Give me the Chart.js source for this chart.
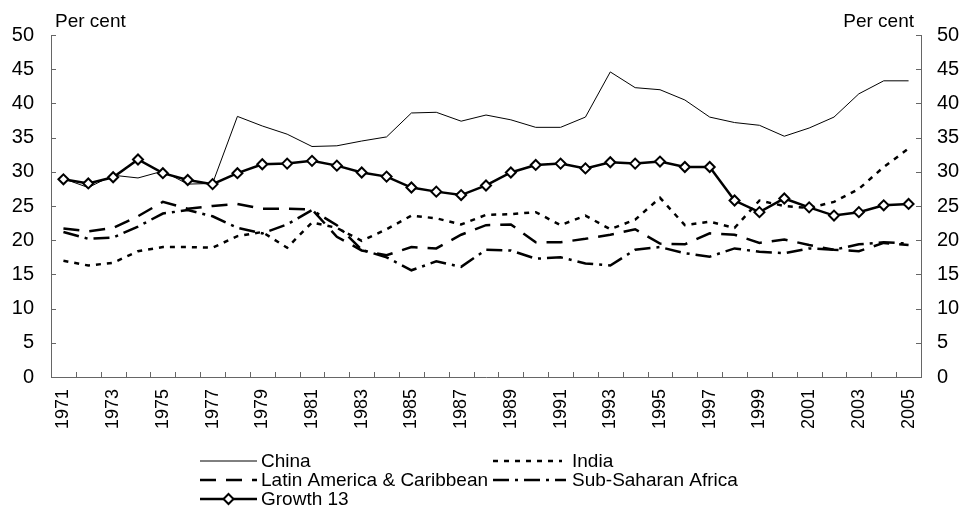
<!DOCTYPE html>
<html>
<head>
    <meta charset="UTF-8">
    <title>Per cent</title>
    <script src="https://cdn.jsdelivr.net/npm/chart.js"></script>
    <style>
        html, body { margin: 0; padding: 0; background: #fff; }
    </style>
</head>
<body>
    <canvas id="myChart" width="960" height="508"></canvas>

    <script>
        // categories and series
        const years = ['1971', '1972', '1973', '1974', '1975', '1976', '1977', '1978', '1979', '1980',
                       '1981', '1982', '1983', '1984', '1985', '1986', '1987', '1988', '1989', '1990',
                       '1991', '1992', '1993', '1994', '1995', '1996', '1997', '1998', '1999', '2000',
                       '2001', '2002', '2003', '2004', '2005'];
        const china = [29.0, 27.7, 29.5, 29.1, 30.1, 28.2, 28.3, 38.1, 36.7, 35.5,
                       33.7, 33.8, 34.5, 35.1, 38.6, 38.7, 37.4, 38.3, 37.6, 36.5,
                       36.5, 38.0, 44.6, 42.3, 42.0, 40.5, 38.0, 37.2, 36.8, 35.2,
                       36.4, 38.0, 41.4, 43.3, 43.3];
        const india = [17.0, 16.3, 16.7, 18.4, 19.0, 19.0, 18.9, 20.6, 21.2, 18.9,
                       22.6, 21.8, 19.9, 21.6, 23.6, 23.2, 22.3, 23.7, 23.8, 24.1,
                       22.2, 23.6, 21.6, 23.0, 26.2, 22.2, 22.7, 21.8, 25.8, 25.0,
                       24.7, 25.6, 27.5, 30.7, 33.4];
        const latinAmerica = [21.7, 21.3, 21.8, 23.5, 25.6, 24.6, 25.0, 25.3, 24.6, 24.6,
                              24.5, 20.5, 18.5, 17.8, 19.0, 18.8, 20.8, 22.2, 22.3, 19.7,
                              19.7, 20.2, 20.8, 21.6, 19.5, 19.4, 21.0, 20.8, 19.6, 20.1,
                              19.3, 18.6, 18.4, 19.6, 19.3];
        const subSaharan = [21.2, 20.2, 20.4, 22.0, 23.9, 24.4, 23.5, 21.8, 21.0, 22.3,
                            24.4, 22.2, 18.6, 17.5, 15.6, 16.9, 16.1, 18.6, 18.5, 17.3,
                            17.5, 16.6, 16.3, 18.6, 19.0, 18.1, 17.6, 18.8, 18.3, 18.1,
                            18.8, 18.6, 19.4, 19.7, 19.5];
        const growth13 = [28.9, 28.3, 29.2, 31.8, 29.8, 28.8, 28.2, 29.8, 31.1, 31.2,
                          31.6, 30.9, 29.9, 29.3, 27.7, 27.1, 26.6, 28.0, 29.9, 31.0,
                          31.2, 30.5, 31.4, 31.2, 31.5, 30.7, 30.7, 25.8, 24.1, 26.1,
                          24.8, 23.6, 24.1, 25.1, 25.3];
        const yTicks = [0, 5, 10, 15, 20, 25, 30, 35, 40, 45, 50];

        const FONT = 'Liberation Sans, Arial, sans-serif';
        const AXIS = '#666';

        // ticks drawn inside the plot, plus "Per cent" titles and the legend
        const decorations = {
            id: 'decorations',
            afterDraw(chart) {
                const c = chart.ctx;
                const a = chart.chartArea;
                const x = chart.scales.x, y = chart.scales.y;
                c.save();
                c.strokeStyle = AXIS;
                c.lineWidth = 1;
                c.beginPath();
                yTicks.forEach(v => {
                    const py = Math.round(y.getPixelForValue(v)) + 0.5;
                    c.moveTo(a.left, py); c.lineTo(a.left + 5, py);
                    c.moveTo(a.right, py); c.lineTo(a.right - 5, py);
                });
                for (let i = 1; i < years.length; i++) {
                    const px = Math.round((x.getPixelForValue(i - 1) + x.getPixelForValue(i)) / 2) + 0.5;
                    c.moveTo(px, a.bottom); c.lineTo(px, a.bottom - 5);
                }
                c.stroke();

                c.fillStyle = '#000';
                c.font = '19px ' + FONT;
                c.textBaseline = 'alphabetic';
                c.textAlign = 'left';
                c.fillText('Per cent', 55, 27);
                c.textAlign = 'right';
                c.fillText('Per cent', 914, 27);

                // legend, two columns: [dataset, line start, line end, text x, y]
                const items = [
                    [0, 200, 257, 261, 461], [1, 493, 562, 572, 461],
                    [2, 200, 257, 261, 480], [3, 493, 566, 572, 480],
                    [4, 200, 257, 261, 499]
                ];
                c.font = '19px ' + FONT;
                c.textAlign = 'left';
                c.textBaseline = 'middle';
                items.forEach(([idx, x0, x1, tx, ly]) => {
                    const ds = chart.data.datasets[idx];
                    c.strokeStyle = ds.borderColor;
                    c.lineWidth = ds.borderWidth;
                    c.setLineDash(ds.borderDash || []);
                    c.beginPath();
                    c.moveTo(x0, ly); c.lineTo(x1, ly);
                    c.stroke();
                    c.setLineDash([]);
                    if (ds.pointRadius > 0) {
                        const cx = (x0 + x1) / 2, r = ds.pointRadius;
                        c.beginPath();
                        c.moveTo(cx, ly - r); c.lineTo(cx + r, ly);
                        c.lineTo(cx, ly + r); c.lineTo(cx - r, ly);
                        c.closePath();
                        c.fillStyle = '#fff';
                        c.fill();
                        c.lineWidth = 2;
                        c.stroke();
                    }
                    c.fillStyle = '#000';
                    c.fillText(ds.label, tx, ly + 1);
                });
                c.restore();
            }
        };

        const ctx = document.getElementById('myChart').getContext('2d');
        const myChart = new Chart(ctx, {
            type: 'line',
            data: {
                labels: years,
                datasets: [
                    { label: 'China', data: china, borderColor: '#000', borderWidth: 1,
                      pointRadius: 0, order: 2 },
                    { label: 'India', data: india, borderColor: '#000', borderWidth: 2.5,
                      borderDash: [5, 6], pointRadius: 0, order: 2 },
                    { label: 'Latin America & Caribbean', data: latinAmerica, borderColor: '#000',
                      borderWidth: 2.5, borderDash: [16, 10], pointRadius: 0, order: 2 },
                    { label: 'Sub-Saharan Africa', data: subSaharan, borderColor: '#000',
                      borderWidth: 2.5, borderDash: [16, 6, 3, 6], pointRadius: 0, order: 2 },
                    { label: 'Growth 13', data: growth13, borderColor: '#000', borderWidth: 2.5,
                      pointStyle: 'rectRot', pointRadius: 5, pointBorderWidth: 2,
                      pointBackgroundColor: '#fff', pointBorderColor: '#000', order: 1 }
                ]
            },
            options: {
                responsive: false,
                animation: false,
                devicePixelRatio: 1,
                layout: { padding: { top: 35, left: 0, right: 0, bottom: 0 } },
                elements: { line: { tension: 0, fill: false } },
                plugins: {
                    legend: { display: false },
                    tooltip: { enabled: false }
                },
                scales: {
                    x: {
                        offset: true,
                        grid: { display: false },
                        border: { display: true, color: AXIS, width: 1 },
                        ticks: {
                            autoSkip: false,
                            maxRotation: 90,
                            minRotation: 90,
                            padding: 4,
                            color: '#000',
                            font: { family: FONT, size: 18 },
                            callback: (v, i) => (i % 2 === 0 ? years[i] : '')
                        },
                        afterFit: s => { s.height = 131; }
                    },
                    y: {
                        position: 'left',
                        min: 0, max: 50,
                        grid: { display: false },
                        border: { display: true, color: AXIS, width: 1 },
                        ticks: { stepSize: 5, padding: 9, color: '#000',
                                 font: { family: FONT, size: 20 } },
                        afterFit: s => { s.width = 51; }
                    },
                    y2: {
                        position: 'right',
                        min: 0, max: 50,
                        grid: { display: false },
                        border: { display: true, color: AXIS, width: 1 },
                        ticks: { stepSize: 5, padding: 8, color: '#000',
                                 font: { family: FONT, size: 20 } },
                        afterFit: s => { s.width = 39; }
                    }
                }
            },
            plugins: [decorations]
        });
    </script>
</body>
</html>
